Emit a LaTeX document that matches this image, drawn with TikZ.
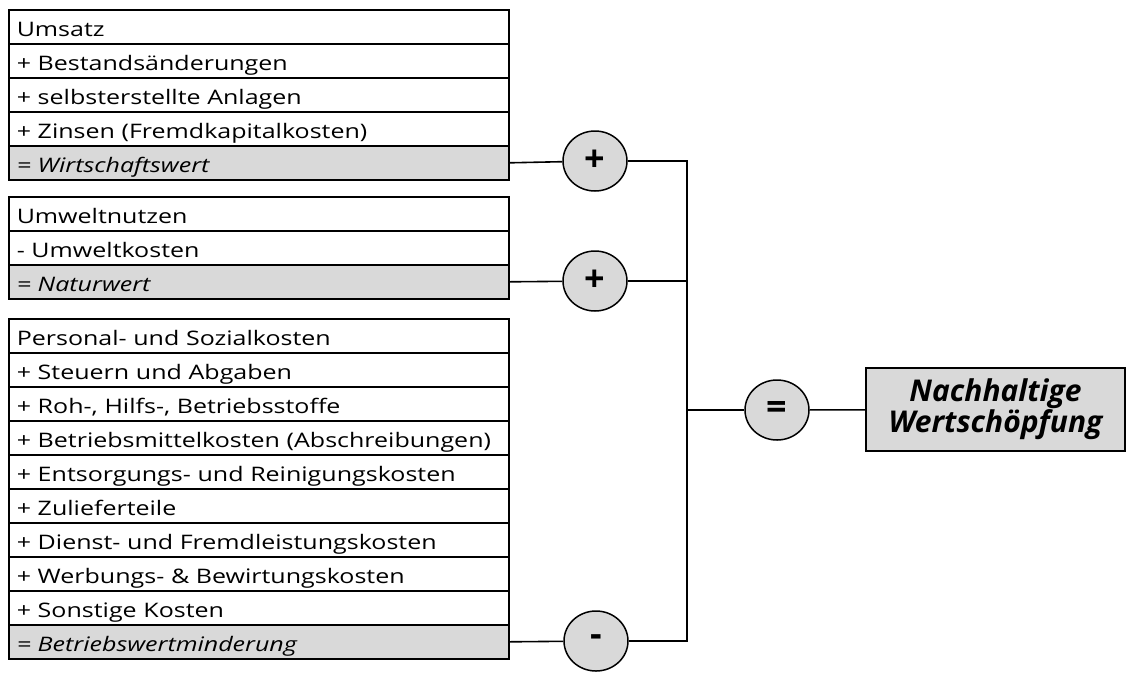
\documentclass[tikz,border=0pt]{standalone}
\usepackage{fontspec}
\setmainfont{Open Sans}
\newfontfamily\rowfont{Open Sans}[FakeStretch=1.25]
\usetikzlibrary{shapes.geometric}
\definecolor{sumgray}{HTML}{D9D9D9}
\begin{document}
\begin{tikzpicture}[x=1pt,y=-1pt,
  row/.style={draw, line width=1.6pt, minimum width=500pt, minimum height=34pt,
    text width=484pt, inner xsep=8pt, inner ysep=0pt, align=left, anchor=north west,
    text height=22pt, text depth=2pt, font=\rowfont\fontsize{20}{22}\selectfont},
  sumrow/.style={row, fill=sumgray, font=\rowfont\fontsize{20}{22}\selectfont\itshape},
  opnode/.style={ellipse, draw, line width=1.5pt, fill=sumgray, minimum width=64pt,
    minimum height=60pt, inner sep=0pt, font=\fontsize{36}{36}\selectfont\bfseries},
  result/.style={draw, line width=1.8pt, fill=sumgray, minimum width=259pt, minimum height=83pt,
    align=center, inner sep=0pt, font=\fontsize{30}{26}\selectfont\bfseries\itshape},
  link/.style={line width=1.6pt}]
\useasboundingbox (0,0) rectangle (1126,673);

% Wirtschaftswert block
\node[row] (a1) at (8,9) {Umsatz};
\node[row] (a2) at (8,43) {+ Bestandsänderungen};
\node[row] (a3) at (8,77) {+ selbsterstellte Anlagen};
\node[row] (a4) at (8,111) {+ Zinsen (Fremdkapitalkosten)};
\node[sumrow] (a5) at (8,145) {= Wirtschaftswert};

% Naturwert block
\node[row] (b1) at (8,196) {Umweltnutzen};
\node[row] (b2) at (8,230) {- Umweltkosten};
\node[sumrow] (b3) at (8,264) {= Naturwert};

% Betriebswertminderung block
\node[row] (c1) at (8,318) {Personal- und Sozialkosten};
\node[row] (c2) at (8,352) {+ Steuern und Abgaben};
\node[row] (c3) at (8,386) {+ Roh-, Hilfs-, Betriebsstoffe};
\node[row] (c4) at (8,420) {+ Betriebsmittelkosten (Abschreibungen)};
\node[row] (c5) at (8,454) {+ Entsorgungs- und Reinigungskosten};
\node[row] (c6) at (8,488) {+ Zulieferteile};
\node[row] (c7) at (8,522) {+ Dienst- und Fremdleistungskosten};
\node[row] (c8) at (8,556) {+ Werbungs- \& Bewirtungskosten};
\node[row] (c9) at (8,590) {+ Sonstige Kosten};
\node[sumrow] (c10) at (8,624) {= Betriebswertminderung};

% operators
\node[opnode] (p1) at (595,161) {+};
\node[opnode] (p2) at (595,281) {+};
\node[opnode] (m) at (596,641) {-};
\node[opnode] (eq) at (777,410) {=};
\node[result] (res) at (995.5,409.5) {Nachhaltige\\Wertschöpfung};

\coordinate (bt) at (687,161);
\coordinate (bb) at (687,641);

\draw[link] (a5.east) -- (p1);
\draw[link] (b3.east) -- (p2);
\draw[link] (c10.east) -- (m);
\draw[link] (p1) -- (bt) -- (bb) -- (m);
\draw[link] (p2) -- (p2 -| bt);
\draw[link] (eq -| bt) -- (eq);
\draw[link] (eq) -- (res);
\end{tikzpicture}
\end{document}
